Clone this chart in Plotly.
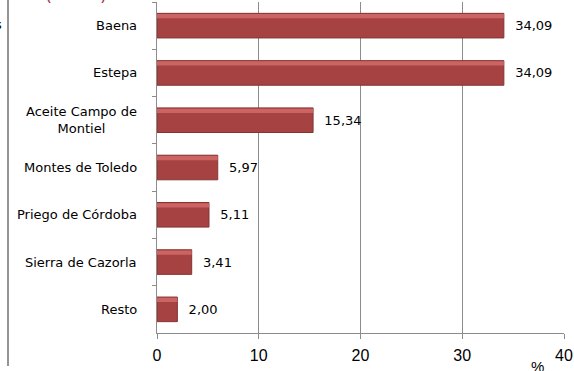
import plotly.graph_objects as go

categories = ["Baena", "Estepa", "Aceite Campo de<br>Montiel", "Montes de Toledo",
              "Priego de Córdoba", "Sierra de Cazorla", "Resto"]
values = [34.09, 34.09, 15.34, 5.97, 5.11, 3.41, 2.00]
x_ticks = [0, 10, 20, 30, 40]

W, H = 574, 371
L, R, T, B = 157, 10, 2, 38
pw, ph = W - L - R, H - T - B

def px(xp):
    return (xp - L) / pw

def py(yp):
    return (H - B - yp) / ph

fig = go.Figure()
fig.add_trace(go.Bar(
    y=categories, x=values, orientation="h", width=0.52,
    marker=dict(color="#A64242", line=dict(color="#853333", width=1)),
    texttemplate="\u00a0\u00a0%{x:.2f}", textposition="outside", cliponaxis=False,
    textfont=dict(family="DejaVu Sans", size=13, color="#000000"),
    hoverinfo="skip",
))
# lighter top band imitating the bevelled look
fig.add_trace(go.Bar(
    y=categories, x=values, orientation="h", width=0.09, offset=-0.245,
    marker=dict(color="#CC6464", line=dict(width=0)),
    hoverinfo="skip",
))

annotations = []
for c in categories:
    annotations.append(dict(
        xref="paper", yref="y", x=0, y=c, xshift=-18, xanchor="right", yanchor="middle",
        text=c, showarrow=False, align="center",
        font=dict(family="DejaVu Sans", size=13, color="#000000"),
    ))
annotations.append(dict(xref="paper", yref="paper", x=px(537), y=py(366), text="%",
                        showarrow=False, xanchor="center", yanchor="middle",
                        font=dict(family="Liberation Sans", size=15, color="#000000")))
annotations.append(dict(xref="paper", yref="paper", x=px(4), y=py(25), text="s",
                        showarrow=False, xanchor="right", yanchor="middle",
                        font=dict(family="DejaVu Sans", size=13, color="#000000")))
for xp in (48, 103):
    annotations.append(dict(xref="paper", yref="paper", x=px(xp), y=py(7),
                            text="(" if xp < 60 else ")", showarrow=False,
                            xanchor="center", yanchor="bottom",
                            font=dict(family="DejaVu Sans", size=18, color="#A03D3D")))

fig.update_layout(
    width=W, height=H, margin=dict(l=L, r=R, t=T, b=B, pad=0),
    paper_bgcolor="white", plot_bgcolor="white", showlegend=False,
    barmode="overlay", separators=",.", annotations=annotations,
    xaxis=dict(range=[0, 40], tickvals=x_ticks, ticktext=[str(v) for v in x_ticks],
               showgrid=True, gridcolor="#8C8C8C", gridwidth=1,
               showline=True, linecolor="#8C8C8C", linewidth=1,
               ticks="outside", ticklen=5, tickcolor="#8C8C8C",
               ticklabelstandoff=3, zeroline=False,
               tickfont=dict(family="Liberation Sans", size=16, color="#000000")),
    yaxis=dict(autorange="reversed", showticklabels=False,
               showline=True, linecolor="#8C8C8C", linewidth=1,
               ticks="outside", ticklen=4, tickcolor="#8C8C8C", tickson="boundaries",
               showgrid=False),
    shapes=[dict(type="line", xref="paper", yref="paper", x0=px(8), x1=px(8),
                 y0=py(0), y1=py(366), line=dict(color="#707070", width=1.5))],
)

fig.write_html("out.html", config={"displayModeBar": False},
               post_script="document.body.style.margin='0';")
